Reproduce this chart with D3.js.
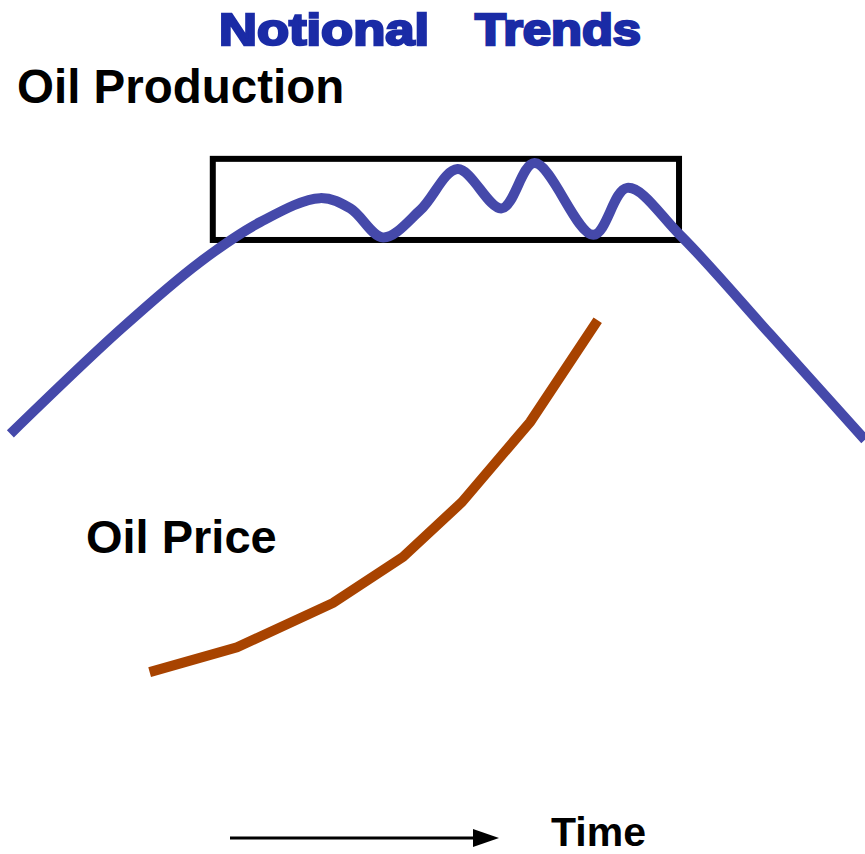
<!DOCTYPE html>
<html>
<head>
<meta charset="utf-8">
<script src="https://cdn.jsdelivr.net/npm/d3@7"></script>
<style>
    body { margin: 0; background: #fff; }
    svg { display: block; }
    .label { font-family: "Liberation Sans", Arial, sans-serif; font-weight: bold; fill: #000; }
</style>
</head>
<body>
<div id="chart"></div>
<script>

// notional time axis runs 0..100 across the page, level 0..100 up the page
let productionTime = [1.2, 13.9, 23.1, 30.1, 37.0, 40.5, 44.3, 48.6, 52.9, 58.0, 61.8, 68.6, 72.5, 78.6, 89.0, 100];
let productionLevel = [49.2, 61.4, 69.3, 74.0, 76.8, 75.6, 72.2, 75.4, 80.2, 75.6, 80.9, 72.5, 78.0, 72.5, 60.9, 48.5];

let priceTime = [17.3, 27.4, 38.5, 46.6, 53.4, 61.3, 69.1];
let priceLevel = [21.3, 24.2, 29.4, 34.8, 41.2, 50.6, 62.5];

// the boxed plateau of production
let plateauTime = [24.6, 78.5];
let plateauLevel = [71.9, 81.4];

class NotionalTrends {

    constructor(parentElement) {
        this.parentElement = parentElement;
        this.initVis();
    }

    initVis() {
        let vis = this;

        vis.width = 865;
        vis.height = 854;

        vis.svg = d3.select("#" + vis.parentElement).append("svg")
            .attr("width", vis.width)
            .attr("height", vis.height);

        vis.x = d3.scaleLinear().domain([0, 100]).range([0, vis.width]);
        vis.y = d3.scaleLinear().domain([0, 100]).range([vis.height, 0]);

        vis.updateVis();
    }

    updateVis() {
        let vis = this;

        // title, heavy blue face
        vis.svg.append("text")
            .attr("x", 219).attr("y", 45)
            .attr("textLength", 210).attr("lengthAdjust", "spacingAndGlyphs")
            .attr("font-family", "'Liberation Sans', Arial, sans-serif")
            .attr("font-weight", "bold").attr("font-size", 45)
            .attr("fill", "#1a2ba6").attr("stroke", "#1a2ba6").attr("stroke-width", 2.5)
            .text("Notional");
        vis.svg.append("text")
            .attr("x", 475).attr("y", 45)
            .attr("textLength", 166).attr("lengthAdjust", "spacingAndGlyphs")
            .attr("font-family", "'Liberation Sans', Arial, sans-serif")
            .attr("font-weight", "bold").attr("font-size", 45)
            .attr("fill", "#1a2ba6").attr("stroke", "#1a2ba6").attr("stroke-width", 2.5)
            .text("Trends");

        vis.svg.append("text").attr("class", "label")
            .attr("x", 17).attr("y", 103).attr("font-size", 47.5)
            .text("Oil Production");

        vis.svg.append("text").attr("class", "label")
            .attr("x", 86).attr("y", 553).attr("font-size", 47)
            .text("Oil Price");

        // plateau box
        vis.svg.append("rect")
            .attr("x", vis.x(plateauTime[0]))
            .attr("y", vis.y(plateauLevel[1]))
            .attr("width", vis.x(plateauTime[1]) - vis.x(plateauTime[0]))
            .attr("height", vis.y(plateauLevel[0]) - vis.y(plateauLevel[1]))
            .attr("fill", "none")
            .attr("stroke", "#000")
            .attr("stroke-width", 6);

        let production = productionTime.map((t, i) => [t, productionLevel[i]]);
        let price = priceTime.map((t, i) => [t, priceLevel[i]]);

        let smooth = d3.line()
            .x(d => vis.x(d[0]))
            .y(d => vis.y(d[1]))
            .curve(d3.curveCatmullRom.alpha(0.5));

        let straight = d3.line()
            .x(d => vis.x(d[0]))
            .y(d => vis.y(d[1]));

        vis.svg.append("path")
            .datum(production)
            .attr("d", smooth)
            .attr("fill", "none")
            .attr("stroke", "#4549aa")
            .attr("stroke-width", 10)
            .attr("stroke-linejoin", "round");

        vis.svg.append("path")
            .datum(price)
            .attr("d", straight)
            .attr("fill", "none")
            .attr("stroke", "#a84300")
            .attr("stroke-width", 10);

        // time arrow
        vis.svg.append("line")
            .attr("x1", 230).attr("x2", 476)
            .attr("y1", 838).attr("y2", 838)
            .attr("stroke", "#000")
            .attr("stroke-width", 3);

        vis.svg.append("path")
            .attr("d", "M473,829L499,838L473,847Z")
            .attr("fill", "#000");

        vis.svg.append("text").attr("class", "label")
            .attr("x", 551).attr("y", 846).attr("font-size", 41)
            .text("Time");
    }
}

new NotionalTrends("chart");
</script>
</body>
</html>
